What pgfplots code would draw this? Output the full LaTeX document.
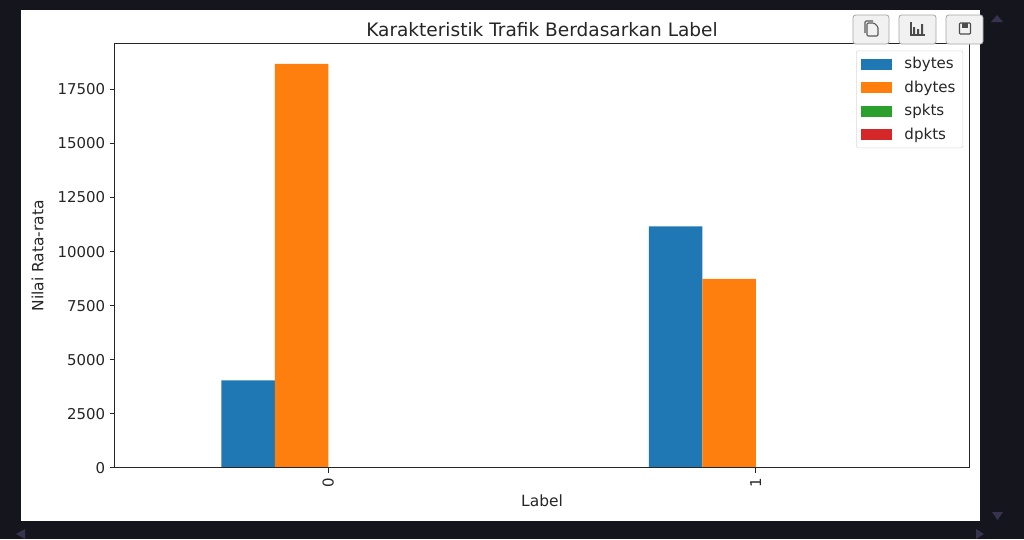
\documentclass[border=0pt]{standalone}
\usepackage{pgfplots}
\pgfplotsset{compat=1.18}
\usepackage{fontspec}
\setmainfont{DejaVu Sans}
\definecolor{tabblue}{HTML}{1F77B4}
\definecolor{taborange}{HTML}{FF7F0E}
\definecolor{tabgreen}{HTML}{2CA02C}
\definecolor{tabred}{HTML}{D62728}
\definecolor{pagebg}{HTML}{15151D}
\definecolor{tri}{HTML}{37334F}
\definecolor{txt}{HTML}{262626}
\definecolor{btnfill}{HTML}{F1F1F1}
\definecolor{btnedge}{HTML}{A6A6A6}
\pgfplotstableread{
cat sbytes dbytes spkts dpkts
0 4040 18680 20 18
1 11170 8740 20 18
}\traffic
\begin{document}
\begin{tikzpicture}[x=0.75pt,y=-0.75pt]
\fill[pagebg] (0,0) rectangle (1024,539);
\fill[white] (21,10) rectangle (980,521);
\begin{axis}[
  at={(85.9pt,-350.8pt)}, anchor=south west,
  scale only axis, width=641.25pt, height=318pt,
  xmin=-0.5, xmax=1.5, ymin=0, ymax=19614,
  ybar=0pt, bar width=0.125,
  axis on top,
  xtick={0,1}, xticklabels={0,1},
  ytick={0,2500,5000,7500,10000,12500,15000,17500},
  scaled y ticks=false,
  tick align=outside, tick pos=lower,
  major tick length=3.6pt,
  tick style={txt, line width=0.6pt},
  axis line style={txt, line width=0.65pt},
  ticklabel style={font=\fontsize{11.2}{13}\selectfont, text=txt},
  x tick label style={rotate=90, anchor=east, xshift=-0.5pt},
  /pgf/number format/assume math mode=true,
  /pgf/number format/1000 sep={},
  xlabel={Label}, ylabel={Nilai Rata-rata},
  ylabel shift=3.5pt, xlabel shift=-1pt,
  label style={font=\fontsize{11.6}{13}\selectfont, text=txt},
  title={Karakteristik Trafik Berdasarkan Label},
  title style={font=\fontsize{13.9}{15}\selectfont, text=txt, yshift=-4pt},
  legend cell align=left,
  legend image code/.code={\fill[#1,draw=none,sharp corners] (0pt,-4.1pt) rectangle (23.5pt,4.1pt);\path (30.5pt,0pt);},
  legend style={at={(0.9925,0.984)}, anchor=north east, draw=black!15, rounded corners=1.5pt,
    font=\fontsize{11.3}{13}\selectfont, text=txt, row sep=3.5pt,
    inner xsep=3.5pt, inner ysep=3pt},
]
\addplot[draw=none, fill=tabblue] table[x=cat,y=sbytes] {\traffic};
\addplot[draw=none, fill=taborange] table[x=cat,y=dbytes] {\traffic};
\addplot[draw=none, fill=tabgreen] table[x=cat,y=spkts] {\traffic};
\addplot[draw=none, fill=tabred] table[x=cat,y=dpkts] {\traffic};
\legend{sbytes,dbytes,spkts,dpkts}
\end{axis}
% toolbar buttons
\foreach \a/\b in {853/889, 899/936, 946/983}
  \draw[btnedge, fill=btnfill, line width=0.6pt, rounded corners=2pt] (\a,15) rectangle (\b,44);
% copy icon
\draw[black!65, line width=0.8pt, rounded corners=0.8pt] (865,33) -- (865,21) -- (873,21);
\draw[black!65, line width=0.8pt, fill=btnfill, rounded corners=0.8pt] (867,36) -- (867,23) -- (874,23) -- (878,27) -- (878,36) -- cycle;
% chart icon
\draw[black!70, line width=0.8pt] (911,22) -- (911,35) -- (925,35);
\fill[black!70] (913,27) rectangle (915,34) (917,29) rectangle (919,34) (921,24) rectangle (923,34);
% save icon
\draw[black!70, line width=0.8pt, rounded corners=0.6pt] (959.5,23) rectangle (970.5,34);
\fill[black!70] (962,23) rectangle (968,27.5);
% scrollbar arrows
\fill[tri] (991,22) -- (1003,22) -- (997,15) -- cycle;
\fill[tri] (992,512) -- (1003,512) -- (997.5,520) -- cycle;
\fill[tri] (16,534) -- (25,529) -- (25,539) -- cycle;
\fill[tri] (976,529) -- (984,534) -- (976,539) -- cycle;
\useasboundingbox (0,0) rectangle (1024,539);
\end{tikzpicture}
\end{document}
